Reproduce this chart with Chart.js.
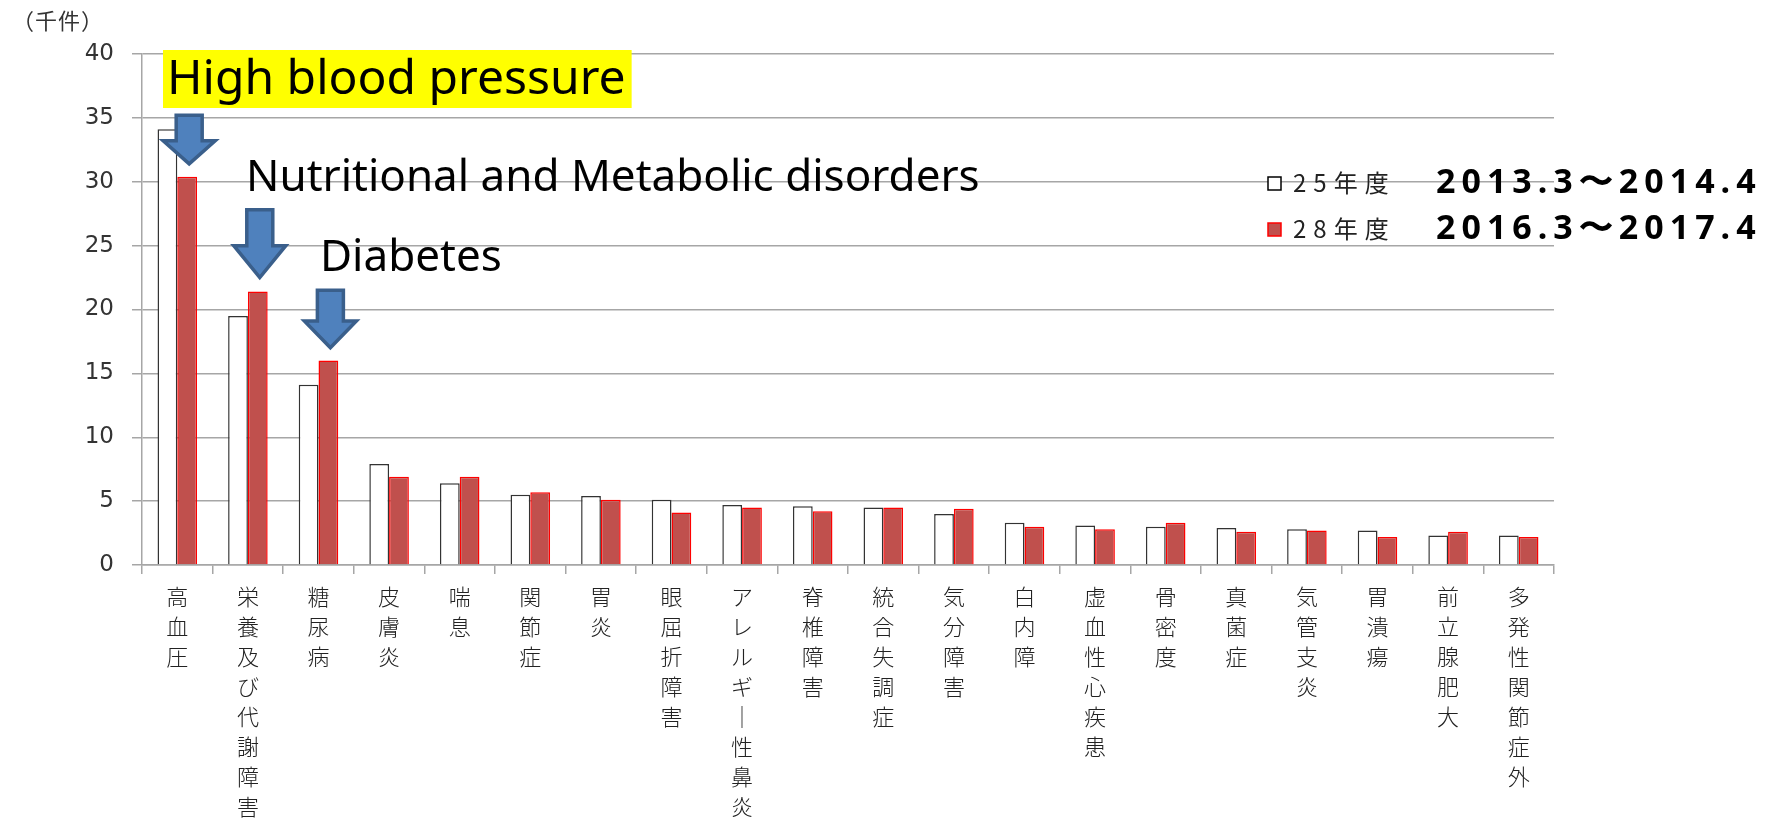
<!DOCTYPE html>
<html>
<head>
<meta charset="utf-8">
<script src="https://cdn.jsdelivr.net/npm/chart.js@4"></script>
<style>
  html, body { margin: 0; padding: 0; background: #fff; }
  #wrap { width: 1766px; height: 818px; position: relative; }
</style>
</head>
<body>
<div id="wrap"><canvas id="chart"></canvas></div>
<script>
// 傷病名（縦書きラベル）
const categories = ['高血圧', '栄養及び代謝障害', '糖尿病', '皮膚炎', '喘息', '関節症', '胃炎', '眼屈折障害',
    'アレルギー性鼻炎', '脊椎障害', '統合失調症', '気分障害', '白内障', '虚血性心疾患', '骨密度', '真菌症',
    '気管支炎', '胃潰瘍', '前立腺肥大', '多発性関節症外'];

// 件数（千件）
const h25 = [34.1, 19.5, 14.1, 7.9, 6.4, 5.5, 5.4, 5.1, 4.7, 4.6, 4.5, 4.0, 3.3, 3.1, 3.0, 2.9, 2.8, 2.7, 2.3, 2.3];
const h28 = [30.4, 21.4, 16.0, 6.9, 6.9, 5.7, 5.1, 4.1, 4.5, 4.2, 4.5, 4.4, 3.0, 2.8, 3.3, 2.6, 2.7, 2.2, 2.6, 2.2];

const seriesLabels = ['25年度', '28年度'];
const periodLabels = ['2013.3〜2014.4', '2016.3〜2017.4'];
const unitLabel = '（千件）';

// 青い矢印: 対象カテゴリと上端/首/先端の値
const arrowCats = [0, 1, 2];
const arrowTop = [35.2, 27.8, 21.5];
const arrowNeck = [33.2, 25.0, 19.1];
const arrowTip = [31.4, 22.5, 17.0];
const arrowTexts = ['High blood pressure', 'Nutritional and Metabolic disorders', 'Diabetes'];

const COLORS = { red: '#C0504D', redLine: '#FF0000', white: '#FFFFFF', whiteLine: '#333333', grid: '#A6A6A6' };
const JP = '"Noto Sans CJK JP", "Noto Sans", sans-serif';
const LATIN = '"Noto Sans", "DejaVu Sans", sans-serif';

// 縦書き用に1文字ずつ分割（長音は縦棒に）
const verticalLabels = categories.map(s => Array.from(s.replace(/ー/g, '｜')));

function drawArrow(ctx, cx, top, neck, tip, shaftW, headW) {
    ctx.beginPath();
    ctx.moveTo(cx - shaftW / 2, top);
    ctx.lineTo(cx + shaftW / 2, top);
    ctx.lineTo(cx + shaftW / 2, neck);
    ctx.lineTo(cx + headW / 2, neck);
    ctx.lineTo(cx, tip);
    ctx.lineTo(cx - headW / 2, neck);
    ctx.lineTo(cx - shaftW / 2, neck);
    ctx.closePath();
    ctx.fillStyle = '#4F81BD';
    ctx.fill();
    ctx.lineWidth = 3.5;
    ctx.strokeStyle = '#3A5F8B';
    ctx.lineJoin = 'miter';
    ctx.stroke();
}

// 注記・凡例・単位をまとめて描く
const annotate = {
    id: 'annotate',
    afterDatasetsDraw(chart) {
        const ctx = chart.ctx;
        const y = chart.scales.y;
        const red = chart.getDatasetMeta(1);
        ctx.save();

        arrowCats.forEach((c, i) => {
            const x = red.data[c].x + 2;
            drawArrow(ctx, x, y.getPixelForValue(arrowTop[i]), y.getPixelForValue(arrowNeck[i]),
                y.getPixelForValue(arrowTip[i]), 26, 52);
        });

        // High blood pressure（黄色背景）
        ctx.font = '48px ' + LATIN;
        ctx.textBaseline = 'middle';
        ctx.textAlign = 'left';
        const w0 = ctx.measureText(arrowTexts[0]).width;
        ctx.fillStyle = '#FFFF00';
        ctx.fillRect(163, 50, w0 + 10, 58);
        ctx.fillStyle = '#000';
        ctx.fillText(arrowTexts[0], 167, 80);

        ctx.font = '44px ' + LATIN;
        ctx.fillText(arrowTexts[1], 246, 178);
        ctx.fillText(arrowTexts[2], 320, 258);

        // 単位
        ctx.font = '22px ' + JP;
        ctx.letterSpacing = '1px';
        ctx.fillStyle = '#333';
        ctx.fillText(unitLabel, 12, 21);

        // 凡例
        const rows = [183, 229];
        rows.forEach((ry, i) => {
            ctx.fillStyle = i === 0 ? COLORS.white : COLORS.red;
            ctx.strokeStyle = i === 0 ? '#000' : COLORS.redLine;
            ctx.lineWidth = 1.5;
            ctx.fillRect(1268, ry - 6, 13, 13);
            ctx.strokeRect(1268, ry - 6, 13, 13);
            ctx.fillStyle = '#222';
            ctx.font = '24px ' + JP;
            ctx.letterSpacing = '7px';
            ctx.fillText(seriesLabels[i], 1293, ry);
            ctx.font = 'bold 34px ' + LATIN;
            ctx.letterSpacing = '6px';
            ctx.fillStyle = '#000';
            ctx.fillText(periodLabels[i], 1436, ry);
        });
        ctx.letterSpacing = '0px';
        ctx.restore();
    }
};

new Chart(document.getElementById('chart'), {
    type: 'bar',
    data: {
        labels: verticalLabels,
        datasets: [
            { label: seriesLabels[0], data: h25, backgroundColor: COLORS.white, borderColor: COLORS.whiteLine, borderWidth: 1.5 },
            { label: seriesLabels[1], data: h28, backgroundColor: COLORS.red, borderColor: COLORS.redLine, borderWidth: 1.5 }
        ]
    },
    options: {
        responsive: true,
        maintainAspectRatio: false,
        animation: false,
        datasets: { bar: { categoryPercentage: 0.56, barPercentage: 1.0 } },
        layout: { padding: { top: 54, right: 212, bottom: 0, left: 0 } },
        plugins: { legend: { display: false }, tooltip: { enabled: false } },
        scales: {
            x: {
                grid: { drawOnChartArea: false, color: COLORS.grid, lineWidth: 1.5, tickLength: 9, offset: true },
                border: { color: COLORS.grid, width: 1.5 },
                ticks: { font: { family: JP, size: 22, weight: 300, lineHeight: 1.36 }, color: '#222', padding: 8, maxRotation: 0, autoSkip: false },
                afterFit: s => { s.height = 253; }
            },
            y: {
                min: 0, max: 40,
                grid: { color: COLORS.grid, lineWidth: 1.5, tickLength: 10 },
                border: { color: COLORS.grid, width: 1.5 },
                ticks: { stepSize: 5, font: { family: '"DejaVu Sans", sans-serif', size: 23 }, color: '#333', padding: 18 },
                afterFit: s => { s.width = 142; }
            }
        }
    },
    plugins: [annotate]
});
</script>
</body>
</html>
